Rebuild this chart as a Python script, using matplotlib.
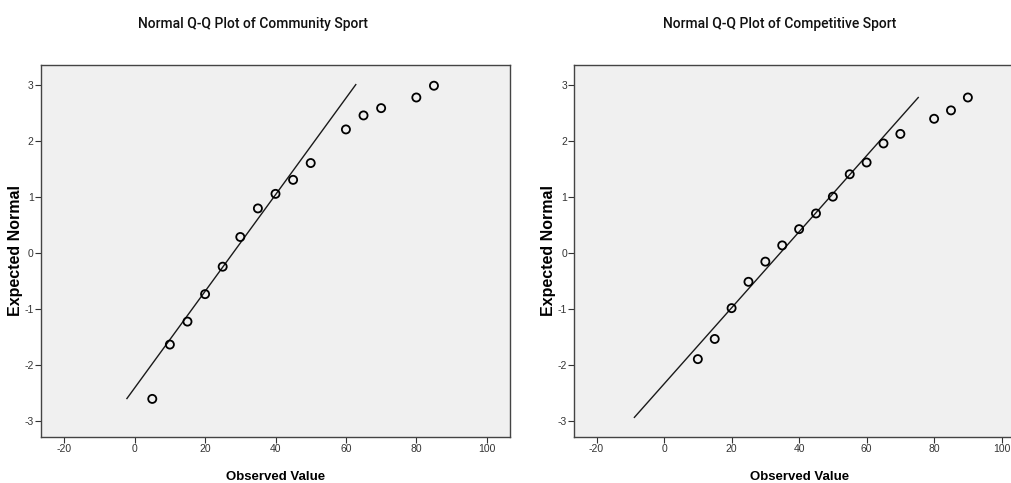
import matplotlib
matplotlib.use("Agg")
import matplotlib.pyplot as plt

plt.rcParams["axes.unicode_minus"] = False

FIG_W, FIG_H, DPI = 1011, 483, 100
PANEL_BG = "#f0f0f0"
SANS = ["Liberation Sans", "DejaVu Sans"]
TITLE_FONT = ["Roboto", "Liberation Sans", "DejaVu Sans"]

# Community Sport: observed value vs expected normal
community_obs = [5, 10, 15, 20, 25, 30, 35, 40, 45, 50, 60, 65, 70, 80, 85]
community_exp = [-2.61, -1.64, -1.23, -0.74, -0.25, 0.28, 0.79, 1.05, 1.30,
                 1.60, 2.20, 2.45, 2.58, 2.77, 2.98]
community_line_x = [-2.2, 62.8]
community_mean, community_sd = 28.0, 11.6

# Competitive Sport
competitive_obs = [10, 15, 20, 25, 30, 35, 40, 45, 50, 55, 60, 65, 70, 80,
                   85, 90]
competitive_exp = [-1.90, -1.54, -0.99, -0.52, -0.16, 0.13, 0.42, 0.70, 1.00,
                   1.40, 1.61, 1.95, 2.12, 2.39, 2.54, 2.77]
competitive_line_x = [-8.8, 75.3]
competitive_mean, competitive_sd = 34.5, 14.73

x_ticks = [-20, 0, 20, 40, 60, 80, 100]
y_ticks = [-3, -2, -1, 0, 1, 2, 3]


def px_axes(fig, left, top, right, bottom):
    return fig.add_axes([left / FIG_W, 1 - bottom / FIG_H,
                         (right - left) / FIG_W, (bottom - top) / FIG_H])


def qq_panel(ax, title, obs, exp, line_x, mean, sd, title_x, w_px):
    ax.set_facecolor(PANEL_BG)
    line_y = [(x - mean) / sd for x in line_x]
    ax.plot(line_x, line_y, color="#1a1a1a", lw=1.0)
    ax.scatter(obs, exp, s=34, facecolors="none", edgecolors="black",
               linewidths=1.3, zorder=3)
    ax.set_xlim(-26.6, 106.6)
    ax.set_ylim(-3.29, 3.35)
    ax.set_xticks(x_ticks)
    ax.set_yticks(y_ticks)
    ax.tick_params(direction="out", length=4.3, width=0.8, pad=1.0,
                   labelsize=7.5, colors="#333333")
    for lab in ax.get_xticklabels() + ax.get_yticklabels():
        lab.set_family(SANS)
    for sp in ax.spines.values():
        sp.set_color("#444444")
        sp.set_linewidth(1.0)
    ax.set_xlabel("Observed Value", fontsize=9.5, fontweight="bold",
                  family=SANS)
    ax.xaxis.set_label_coords(0.5, (437 - 471) / 372)
    ax.set_ylabel("Expected Normal", fontsize=11.5, fontweight="bold",
                  family=SANS)
    ax.yaxis.set_label_coords(-17.8 / w_px, 0.5)
    ax.figure.text(title_x / FIG_W, 1 - 24 / FIG_H, title, ha="center",
                   va="center", fontsize=10, fontweight="medium",
                   family=TITLE_FONT, color="#111111")


fig = plt.figure(figsize=(FIG_W / DPI, FIG_H / DPI), dpi=DPI)
fig.patch.set_facecolor("white")

ax1 = px_axes(fig, 41, 65, 510, 437)
qq_panel(ax1, "Normal Q-Q Plot of Community Sport", community_obs,
         community_exp, community_line_x, community_mean, community_sd,
         253, 469)

ax2 = px_axes(fig, 574.3, 65, 574.3 + 449.6, 437)
qq_panel(ax2, "Normal Q-Q Plot of Competitive Sport", competitive_obs,
         competitive_exp, competitive_line_x, competitive_mean,
         competitive_sd, 780, 449.6)

fig.savefig("out.png", dpi=DPI)
